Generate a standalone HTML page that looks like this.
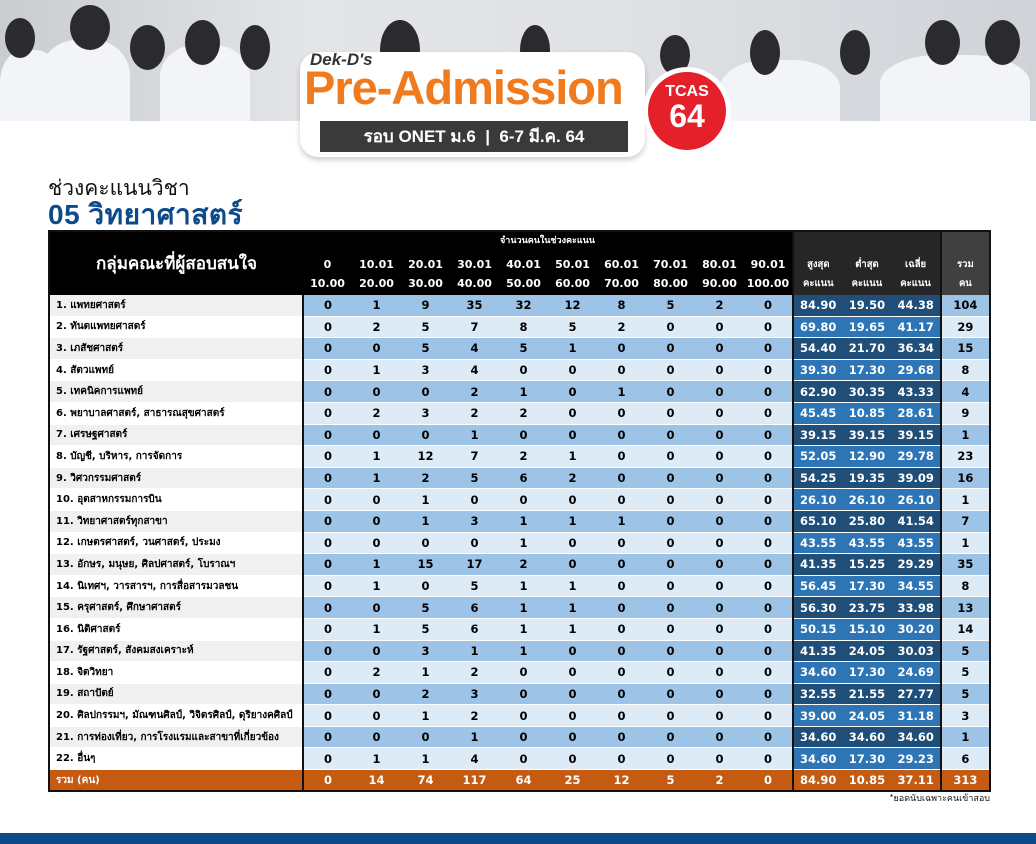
<!DOCTYPE html>
<html><head><meta charset="utf-8"><style>
body{margin:0;width:1036px;height:844px;background:#fff;position:relative;overflow:hidden;font-family:"Liberation Sans","Noto Sans CJK SC",sans-serif}
.banner{position:absolute;left:0;top:0;width:1036px;height:121px;background:linear-gradient(90deg,#c9ccd0,#e3e5e8 30%,#dfe1e4 60%,#cfd3d8);overflow:hidden}
.blob{position:absolute;border-radius:50%;background:#2b2a2c}
.shirt{position:absolute;border-radius:40% 40% 0 0;background:#f3f4f7}
.t1{position:absolute;left:48px;top:172px;font-size:21px;color:#111;font-family:"Noto Sans CJK SC",sans-serif}
.t2{position:absolute;left:48px;top:193px;font-size:28px;font-weight:bold;color:#0c4a8a;font-family:"Liberation Sans","Noto Sans CJK SC",sans-serif;letter-spacing:0.5px}
table{position:absolute;left:48px;top:230px;border-collapse:collapse;border:2px solid #111;table-layout:fixed;font-size:11.5px;font-weight:bold;font-family:"DejaVu Sans","Noto Sans CJK SC",sans-serif}
td{padding:0;text-align:center;height:20.6px;border-bottom:1px solid #fff;white-space:nowrap;overflow:hidden}
td.l{text-align:left;padding-left:6px;font-size:10px;border-right:2px solid #111}
tr.o td{background:#9dc3e6}tr.e td{background:#ddebf7}
tr.o td.l{background:#f0f0f0}tr.e td.l{background:#fff}
tr.o td.s{background:#1f4e79;color:#fff}tr.e td.s{background:#2e75b6;color:#fff}
td.s1{border-left:2px solid #111}
td.tt{border-left:2px solid #111}
thead td{background:#000;color:#fff;font-size:11px;line-height:19px;border:none}
.foot td{background:#c55a11!important;color:#fff;height:20px}
</style></head><body>
<div class="banner">
<div class="shirt" style="left:0;top:50px;width:60px;height:80px"></div>
<div class="blob" style="left:5px;top:18px;width:30px;height:40px"></div>
<div class="shirt" style="left:40px;top:40px;width:90px;height:90px"></div>
<div class="blob" style="left:70px;top:5px;width:40px;height:45px"></div>
<div class="blob" style="left:130px;top:25px;width:35px;height:45px"></div>
<div class="shirt" style="left:160px;top:45px;width:90px;height:80px"></div>
<div class="blob" style="left:185px;top:20px;width:35px;height:45px"></div>
<div class="blob" style="left:240px;top:25px;width:30px;height:45px"></div>
<div class="blob" style="left:380px;top:20px;width:40px;height:60px"></div>
<div class="blob" style="left:520px;top:25px;width:30px;height:50px"></div>
<div class="blob" style="left:660px;top:35px;width:30px;height:40px"></div>
<div class="shirt" style="left:720px;top:60px;width:120px;height:70px"></div>
<div class="blob" style="left:750px;top:30px;width:30px;height:45px"></div>
<div class="blob" style="left:840px;top:30px;width:30px;height:45px"></div>
<div class="shirt" style="left:880px;top:55px;width:150px;height:70px"></div>
<div class="blob" style="left:925px;top:20px;width:35px;height:45px"></div>
<div class="blob" style="left:985px;top:20px;width:35px;height:45px"></div>
</div>
<div style="position:absolute;left:300px;top:52px;width:345px;height:105px;background:#fff;border-radius:18px;box-shadow:0 3px 6px rgba(0,0,0,.2)"></div>
<div style="position:absolute;left:310px;top:50px;font-size:17px;font-weight:bold;font-style:italic;color:#333">Dek-D's</div>
<div style="position:absolute;left:304px;top:60px;font-size:47px;font-weight:bold;color:#f07a1e;letter-spacing:-1px">Pre-Admission</div>
<div style="position:absolute;left:320px;top:121px;width:308px;height:31px;background:#3a3a3a;color:#fff;font-size:17px;font-weight:bold;line-height:31px;text-align:center;font-family:'Liberation Sans','Noto Sans CJK SC',sans-serif">รอบ ONET ม.6 &nbsp;|&nbsp; 6-7 มี.ค. 64</div>
<div style="position:absolute;left:643px;top:67px;width:88px;height:88px;border-radius:50%;background:#fff"></div>
<div style="position:absolute;left:648px;top:72px;width:78px;height:78px;border-radius:50%;background:#e4202a;color:#fff;text-align:center;font-weight:bold"><div style="font-size:16px;margin-top:12px;line-height:16px">TCAS</div><div style="font-size:32px;line-height:32px">64</div></div>

<div class="t1">ช่วงคะแนนวิชา</div>
<div class="t2">05 วิทยาศาสตร์</div>

<table>
<colgroup><col style="width:254px"><col span="10" style="width:49px"><col span="3" style="width:49.3px"><col style="width:49px"></colgroup>
<thead>
<tr><td rowspan="2" style="font-size:17px;vertical-align:top;padding-top:20px;font-family:'Noto Sans CJK SC',sans-serif">กลุ่มคณะที่ผู้สอบสนใจ</td><td colspan="10" style="font-size:9px;height:20px;vertical-align:top;line-height:18px">จำนวนคนในช่วงคะแนน</td><td colspan="3" rowspan="2" style="background:#262626;border-left:2px solid #111;font-size:9.5px;vertical-align:bottom;padding-bottom:2px"><div style="display:flex"><span style="flex:1">สูงสุด<br>คะแนน</span><span style="flex:1">ต่ำสุด<br>คะแนน</span><span style="flex:1">เฉลี่ย<br>คะแนน</span></div></td><td rowspan="2" style="background:#404040;border-left:2px solid #111;font-size:9.5px;vertical-align:bottom;padding-bottom:2px">รวม<br>คน</td></tr>
<tr><td style="height:43px">0<br>10.00</td><td>10.01<br>20.00</td><td>20.01<br>30.00</td><td>30.01<br>40.00</td><td>40.01<br>50.00</td><td>50.01<br>60.00</td><td>60.01<br>70.00</td><td>70.01<br>80.00</td><td>80.01<br>90.00</td><td>90.01<br>100.00</td></tr>
</thead>
<tbody id="b">
<tr class="o"><td class="l">1. แพทยศาสตร์</td><td>0</td><td>1</td><td>9</td><td>35</td><td>32</td><td>12</td><td>8</td><td>5</td><td>2</td><td>0</td><td class="s s1">84.90</td><td class="s">19.50</td><td class="s">44.38</td><td class="tt">104</td></tr>
<tr class="e"><td class="l">2. ทันตแพทยศาสตร์</td><td>0</td><td>2</td><td>5</td><td>7</td><td>8</td><td>5</td><td>2</td><td>0</td><td>0</td><td>0</td><td class="s s1">69.80</td><td class="s">19.65</td><td class="s">41.17</td><td class="tt">29</td></tr>
<tr class="o"><td class="l">3. เภสัชศาสตร์</td><td>0</td><td>0</td><td>5</td><td>4</td><td>5</td><td>1</td><td>0</td><td>0</td><td>0</td><td>0</td><td class="s s1">54.40</td><td class="s">21.70</td><td class="s">36.34</td><td class="tt">15</td></tr>
<tr class="e"><td class="l">4. สัตวแพทย์</td><td>0</td><td>1</td><td>3</td><td>4</td><td>0</td><td>0</td><td>0</td><td>0</td><td>0</td><td>0</td><td class="s s1">39.30</td><td class="s">17.30</td><td class="s">29.68</td><td class="tt">8</td></tr>
<tr class="o"><td class="l">5. เทคนิคการแพทย์</td><td>0</td><td>0</td><td>0</td><td>2</td><td>1</td><td>0</td><td>1</td><td>0</td><td>0</td><td>0</td><td class="s s1">62.90</td><td class="s">30.35</td><td class="s">43.33</td><td class="tt">4</td></tr>
<tr class="e"><td class="l">6. พยาบาลศาสตร์, สาธารณสุขศาสตร์</td><td>0</td><td>2</td><td>3</td><td>2</td><td>2</td><td>0</td><td>0</td><td>0</td><td>0</td><td>0</td><td class="s s1">45.45</td><td class="s">10.85</td><td class="s">28.61</td><td class="tt">9</td></tr>
<tr class="o"><td class="l">7. เศรษฐศาสตร์</td><td>0</td><td>0</td><td>0</td><td>1</td><td>0</td><td>0</td><td>0</td><td>0</td><td>0</td><td>0</td><td class="s s1">39.15</td><td class="s">39.15</td><td class="s">39.15</td><td class="tt">1</td></tr>
<tr class="e"><td class="l">8. บัญชี, บริหาร, การจัดการ</td><td>0</td><td>1</td><td>12</td><td>7</td><td>2</td><td>1</td><td>0</td><td>0</td><td>0</td><td>0</td><td class="s s1">52.05</td><td class="s">12.90</td><td class="s">29.78</td><td class="tt">23</td></tr>
<tr class="o"><td class="l">9. วิศวกรรมศาสตร์</td><td>0</td><td>1</td><td>2</td><td>5</td><td>6</td><td>2</td><td>0</td><td>0</td><td>0</td><td>0</td><td class="s s1">54.25</td><td class="s">19.35</td><td class="s">39.09</td><td class="tt">16</td></tr>
<tr class="e"><td class="l">10. อุตสาหกรรมการบิน</td><td>0</td><td>0</td><td>1</td><td>0</td><td>0</td><td>0</td><td>0</td><td>0</td><td>0</td><td>0</td><td class="s s1">26.10</td><td class="s">26.10</td><td class="s">26.10</td><td class="tt">1</td></tr>
<tr class="o"><td class="l">11. วิทยาศาสตร์ทุกสาขา</td><td>0</td><td>0</td><td>1</td><td>3</td><td>1</td><td>1</td><td>1</td><td>0</td><td>0</td><td>0</td><td class="s s1">65.10</td><td class="s">25.80</td><td class="s">41.54</td><td class="tt">7</td></tr>
<tr class="e"><td class="l">12. เกษตรศาสตร์, วนศาสตร์, ประมง</td><td>0</td><td>0</td><td>0</td><td>0</td><td>1</td><td>0</td><td>0</td><td>0</td><td>0</td><td>0</td><td class="s s1">43.55</td><td class="s">43.55</td><td class="s">43.55</td><td class="tt">1</td></tr>
<tr class="o"><td class="l">13. อักษร, มนุษย, ศิลปศาสตร์, โบราณฯ</td><td>0</td><td>1</td><td>15</td><td>17</td><td>2</td><td>0</td><td>0</td><td>0</td><td>0</td><td>0</td><td class="s s1">41.35</td><td class="s">15.25</td><td class="s">29.29</td><td class="tt">35</td></tr>
<tr class="e"><td class="l">14. นิเทศฯ, วารสารฯ, การสื่อสารมวลชน</td><td>0</td><td>1</td><td>0</td><td>5</td><td>1</td><td>1</td><td>0</td><td>0</td><td>0</td><td>0</td><td class="s s1">56.45</td><td class="s">17.30</td><td class="s">34.55</td><td class="tt">8</td></tr>
<tr class="o"><td class="l">15. ครุศาสตร์, ศึกษาศาสตร์</td><td>0</td><td>0</td><td>5</td><td>6</td><td>1</td><td>1</td><td>0</td><td>0</td><td>0</td><td>0</td><td class="s s1">56.30</td><td class="s">23.75</td><td class="s">33.98</td><td class="tt">13</td></tr>
<tr class="e"><td class="l">16. นิติศาสตร์</td><td>0</td><td>1</td><td>5</td><td>6</td><td>1</td><td>1</td><td>0</td><td>0</td><td>0</td><td>0</td><td class="s s1">50.15</td><td class="s">15.10</td><td class="s">30.20</td><td class="tt">14</td></tr>
<tr class="o"><td class="l">17. รัฐศาสตร์, สังคมสงเคราะห์</td><td>0</td><td>0</td><td>3</td><td>1</td><td>1</td><td>0</td><td>0</td><td>0</td><td>0</td><td>0</td><td class="s s1">41.35</td><td class="s">24.05</td><td class="s">30.03</td><td class="tt">5</td></tr>
<tr class="e"><td class="l">18. จิตวิทยา</td><td>0</td><td>2</td><td>1</td><td>2</td><td>0</td><td>0</td><td>0</td><td>0</td><td>0</td><td>0</td><td class="s s1">34.60</td><td class="s">17.30</td><td class="s">24.69</td><td class="tt">5</td></tr>
<tr class="o"><td class="l">19. สถาปัตย์</td><td>0</td><td>0</td><td>2</td><td>3</td><td>0</td><td>0</td><td>0</td><td>0</td><td>0</td><td>0</td><td class="s s1">32.55</td><td class="s">21.55</td><td class="s">27.77</td><td class="tt">5</td></tr>
<tr class="e"><td class="l">20. ศิลปกรรมฯ, มัณฑนศิลป์, วิจิตรศิลป์, ดุริยางคศิลป์</td><td>0</td><td>0</td><td>1</td><td>2</td><td>0</td><td>0</td><td>0</td><td>0</td><td>0</td><td>0</td><td class="s s1">39.00</td><td class="s">24.05</td><td class="s">31.18</td><td class="tt">3</td></tr>
<tr class="o"><td class="l">21. การท่องเที่ยว, การโรงแรมและสาขาที่เกี่ยวข้อง</td><td>0</td><td>0</td><td>0</td><td>1</td><td>0</td><td>0</td><td>0</td><td>0</td><td>0</td><td>0</td><td class="s s1">34.60</td><td class="s">34.60</td><td class="s">34.60</td><td class="tt">1</td></tr>
<tr class="e"><td class="l">22. อื่นๆ</td><td>0</td><td>1</td><td>1</td><td>4</td><td>0</td><td>0</td><td>0</td><td>0</td><td>0</td><td>0</td><td class="s s1">34.60</td><td class="s">17.30</td><td class="s">29.23</td><td class="tt">6</td></tr>
<tr class="foot"><td class="l">รวม (คน)</td><td>0</td><td>14</td><td>74</td><td>117</td><td>64</td><td>25</td><td>12</td><td>5</td><td>2</td><td>0</td><td class="s1">84.90</td><td>10.85</td><td>37.11</td><td class="tt">313</td></tr>
</tbody>
</table>
<div style="position:absolute;right:46px;top:791px;font-size:9px;color:#111;font-family:'Noto Sans CJK SC',sans-serif">*ยอดนับเฉพาะคนเข้าสอบ</div>
<div style="position:absolute;left:0;top:833px;width:1036px;height:11px;background:#0b4a8b"></div>
</body></html>
